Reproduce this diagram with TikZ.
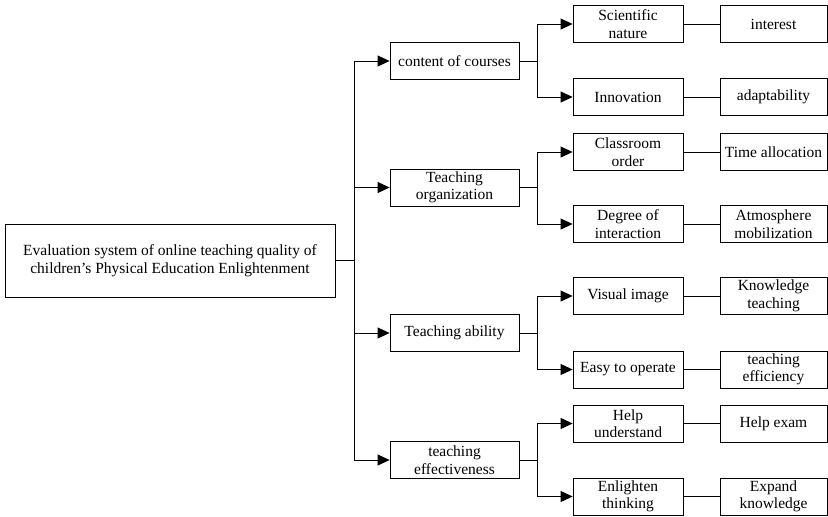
\documentclass[tikz,border=0pt]{standalone}
\usepackage{fontspec}
\setmainfont{Liberation Serif}
\usetikzlibrary{arrows.meta,positioning}

\begin{document}
\begin{tikzpicture}[x=1pt,y=-1pt,
  box/.style={draw,line width=0.8pt,align=center,inner sep=0pt,minimum height=37pt,font=\fontsize{15.5}{17.5}\selectfont},
  rootbox/.style={box,minimum width=330pt,minimum height=73pt},
  firstbox/.style={box,minimum width=129pt},
  secondbox/.style={box,minimum width=110pt},
  thirdbox/.style={box,minimum width=107pt},
  link/.style={line width=0.8pt},
  arrowlink/.style={link,-{Triangle[length=12pt,width=11pt]}}]
\useasboundingbox (0,0) rectangle (828,517);

\node[rootbox] (root) at (170,260.5) {Evaluation system of online teaching quality of\\children's Physical Education Enlightenment};

\node[firstbox] (course) at (454.5,61) {content of courses};
\node[firstbox] (organ) at (454.5,187.5) {Teaching\\organization};
\node[firstbox] (ability) at (454.5,333) {Teaching ability};
\node[firstbox] (effect) at (454.5,460) {teaching\\effectiveness};

\node[secondbox] (sci) at (628,24) {Scientific\\nature};
\node[secondbox] (innov) at (628,97) {Innovation};
\node[secondbox] (order) at (628,152) {Classroom\\order};
\node[secondbox] (interact) at (628,224) {Degree of\\interaction};
\node[secondbox] (visual) at (628,296) {Visual image};
\node[secondbox] (operate) at (628,369.5) {Easy to operate};
\node[secondbox] (underst) at (628,423.5) {Help\\understand};
\node[secondbox] (think) at (628,496.5) {Enlighten\\thinking};

\node[thirdbox] (interest) at (773.5,24) {interest};
\node[thirdbox] (adapt) at (773.5,97) {adaptability};
\node[thirdbox] (time) at (773.5,152) {Time allocation};
\node[thirdbox] (atmos) at (773.5,224) {Atmosphere\\mobilization};
\node[thirdbox] (knowteach) at (773.5,296) {Knowledge\\teaching};
\node[thirdbox] (effic) at (773.5,369.5) {teaching\\efficiency};
\node[thirdbox] (exam) at (773.5,423.5) {Help exam};
\node[thirdbox] (expand) at (773.5,496.5) {Expand\\knowledge};

\coordinate (bus) at (354,260.5);
\draw[link] (root.east) -- (bus);
\draw[link] (bus |- course.west) -- (bus |- effect.west);
\draw[arrowlink] (bus |- course.west) -- (course.west);
\draw[arrowlink] (bus |- organ.west) -- (organ.west);
\draw[arrowlink] (bus |- ability.west) -- (ability.west);
\draw[arrowlink] (bus |- effect.west) -- (effect.west);

\draw[arrowlink] (course.east) -- ++(18,0) |- (sci.west);
\draw[arrowlink] (course.east) -- ++(18,0) |- (innov.west);
\draw[arrowlink] (organ.east) -- ++(18,0) |- (order.west);
\draw[arrowlink] (organ.east) -- ++(18,0) |- (interact.west);
\draw[arrowlink] (ability.east) -- ++(18,0) |- (visual.west);
\draw[arrowlink] (ability.east) -- ++(18,0) |- (operate.west);
\draw[arrowlink] (effect.east) -- ++(18,0) |- (underst.west);
\draw[arrowlink] (effect.east) -- ++(18,0) |- (think.west);

\draw[link] (sci) -- (interest);
\draw[link] (innov) -- (adapt);
\draw[link] (order) -- (time);
\draw[link] (interact) -- (atmos);
\draw[link] (visual) -- (knowteach);
\draw[link] (operate) -- (effic);
\draw[link] (underst) -- (exam);
\draw[link] (think) -- (expand);

\end{tikzpicture}
\end{document}
